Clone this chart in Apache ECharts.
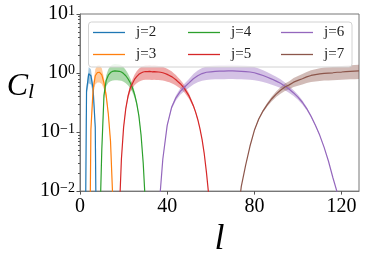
<!DOCTYPE html>
<html><head><meta charset="utf-8">
<script src="https://cdn.jsdelivr.net/npm/echarts@6/dist/echarts.min.js"></script>
<style>html,body{margin:0;padding:0;background:#fff}#c{width:366px;height:263px}</style>
</head><body><div id="c"></div>
<script>
const names = ['j=2','j=3','j=4','j=5','j=6','j=7'];
const colors = ['#1f77b4','#ff7f0e','#2ca02c','#d62728','#9467bd','#8c564b'];

const l2 = [2,3,4,5,6,7,8];
const c2 = [1e-5,0.50,0.97,0.90,0.55,0.12,1e-5];
const e2 = [0,0.08,0.30,0.26,0.097,0.005,0];

const l3 = [4,5,6,7,8,9,10,11,12,13,14,15,16];
const c3 = [1e-5,0.11,0.52,0.90,1.02,1.03,0.93,0.68,0.42,0.20,0.07,0.008,1e-5];
const e3 = [0,0.004,0.087,0.26,0.33,0.34,0.28,0.15,0.056,0.013,0.0016,0,0];

const l4 = [8,9,10,11,12,13,14,15,16,17,18,19,20,21,22,23,24,25,26,27,28,29,30,31,32];
const c4 = [1e-5,0.002,0.05,0.42,0.75,0.92,1.02,1.07,1.09,1.08,1.07,1.04,0.98,0.90,0.80,0.69,0.57,0.44,0.31,0.19,0.09,0.03,0.006,0.0005,1e-5];
const e4 = [0,0,0.0007,0.049,0.158,0.237,0.291,0.32,0.333,0.327,0.32,0.303,0.269,0.227,0.179,0.133,0.091,0.054,0.027,0.010,0.0023,0.0003,0,0,0];

const l5 = [16,17,18,19,20,21,22,23,24,25,26,27,28,29,30,31,32,33,34,35,36,37,38,39,40,41,42,43,44,45,46,47,48,49,50,51,52,53,54,55,56,57,58,59,60,61,62,63,64];
const c5 = [1e-5,0.0005,0.004,0.035,0.12,0.25,0.40,0.55,0.66,0.78,0.87,0.95,1.00,1.04,1.06,1.06,1.07,1.05,1.06,1.05,1.04,1.03,1.01,0.98,0.95,0.91,0.87,0.82,0.77,0.71,0.66,0.60,0.54,0.47,0.41,0.34,0.28,0.22,0.165,0.115,0.075,0.043,0.021,0.009,0.003,0.0008,0.0001,1e-5,1e-6];
const e5 = [0,0,0,0.0003,0.0037,0.016,0.042,0.079,0.113,0.158,0.197,0.235,0.26,0.281,0.292,0.292,0.298,0.287,0.292,0.287,0.281,0.276,0.265,0.25,0.235,0.215,0.197,0.175,0.154,0.131,0.113,0.094,0.076,0.057,0.044,0.030,0.020,0.0126,0.0071,0.0034,0.0015,0.0005,0.0001,0,0,0,0,0,0];

const l6 = [34,36,38,40,42,44,46,48,50,52,54,56,58,60,62,64,66,68,70,72,74,76,78,80,82,84,86,88,90,92,94,96,98,100,102,104,106,108,110,112,114,116,118,120,122,124];
const c6 = [1e-5,0.004,0.035,0.13,0.26,0.38,0.49,0.58,0.68,0.80,0.90,0.98,1.03,1.05,1.07,1.08,1.08,1.09,1.09,1.08,1.07,1.06,1.04,1.01,0.96,0.91,0.85,0.79,0.73,0.67,0.60,0.53,0.46,0.39,0.32,0.25,0.185,0.13,0.088,0.055,0.032,0.017,0.0095,0.003,0.0003,1e-5];
const e6 = [0,0,0.0003,0.0042,0.017,0.036,0.06,0.084,0.116,0.16,0.2025,0.24,0.265,0.276,0.286,0.292,0.292,0.297,0.297,0.292,0.286,0.281,0.27,0.255,0.23,0.207,0.18,0.156,0.133,0.112,0.09,0.07,0.053,0.038,0.026,0.016,0.0086,0.0042,0.0019,0.0008,0.0003,0,0,0,0,0];

const l7 = [70,72,74,76,78,80,82,84,86,88,90,92,94,96,98,100,102,104,106,108,110,112,114,116,118,120,122,124,126,128];
const c7 = [1e-5,0.003,0.012,0.0275,0.058,0.107,0.166,0.229,0.295,0.367,0.44,0.51,0.58,0.63,0.70,0.75,0.80,0.86,0.91,0.94,0.97,0.99,1.00,1.01,1.03,1.04,1.06,1.07,1.08,1.09];
const e7 = [0,0,0,0.0002,0.0008,0.0029,0.0069,0.013,0.022,0.034,0.048,0.065,0.084,0.099,0.1225,0.14,0.16,0.185,0.207,0.221,0.235,0.245,0.25,0.255,0.265,0.27,0.281,0.286,0.292,0.297];

const xTicks = [0,40,80,120];
const yTicks = [0.01,0.1,1,10];
const yTickExp = ['\u22122','\u22121','0','1'];
const yMinorTicks = [0.02,0.03,0.04,0.05,0.06,0.07,0.08,0.09,0.2,0.3,0.4,0.5,0.6,0.7,0.8,0.9,2,3,4,5,6,7,8,9];

const LS = [l2,l3,l4,l5,l6,l7];
const CS = [c2,c3,c4,c5,c6,c7];
const ES = [e2,e3,e4,e5,e6,e7];
const SERIF = 'Liberation Serif';

const series = [];
LS.forEach((ls, i) => {
  const lo = ls.map((x, k) => Math.max(CS[i][k] - ES[i][k], 1e-7));
  const hi = ls.map((x, k) => CS[i][k] + ES[i][k]);
  series.push({
    type: 'custom', name: names[i] + ' band', silent: true, z: 1,
    data: ls.map((x, k) => [x, lo[k], hi[k]]),
    encode: {x: 0, y: [1, 2]},
    renderItem: (params, api) => {
      if (params.dataIndex !== 0) return null;
      const top = ls.map((x, k) => api.coord([x, hi[k]]));
      const bot = ls.map((x, k) => api.coord([x, lo[k]])).reverse();
      const pts = echarts.graphic.clipPointsByRect(top.concat(bot), params.coordSys);
      return {type: 'polygon', shape: {points: pts}, style: {fill: colors[i], opacity: 0.4}};
    }
  });
});
LS.forEach((ls, i) => {
  series.push({
    type: 'line', name: names[i], symbol: 'none', color: colors[i],
    data: ls.map((x, k) => [x, CS[i][k]]),
    lineStyle: {width: 1.2, color: colors[i]}, z: 3
  });
});

const legendLeft = [93, 188, 281];
const legends = [0, 1, 2].map(col => ({
  data: [names[2 * col], names[2 * col + 1]],
  orient: 'vertical', left: legendLeft[col], top: 25, padding: 0,
  itemWidth: 32, itemHeight: 14, itemGap: 7, selectedMode: false,
  icon: 'path://M0,0L32,0L32,1.3L0,1.3Z',
  textStyle: {fontFamily: SERIF, fontSize: 15, color: '#222', padding: [0, 0, 0, 6]}
}));

const chart = echarts.init(document.getElementById('c'), null, {renderer: 'canvas'});
chart.setOption({
  animation: false,
  backgroundColor: '#fff',
  grid: {left: 80, right: 7, top: 14, bottom: 68, show: true, borderColor: '#777', borderWidth: 1, containLabel: false},
  legend: legends,
  graphic: [{
    type: 'rect', z: 3, silent: true,
    shape: {x: 88.5, y: 22, width: 263.5, height: 45, r: 3},
    style: {fill: 'rgba(255,255,255,0.8)', stroke: '#d2d2d2', lineWidth: 1}
  }],
  xAxis: {
    type: 'value', min: 0, max: 128,
    axisLine: {lineStyle: {color: '#777'}},
    axisTick: {customValues: xTicks, length: 3.5, lineStyle: {color: '#555'}},
    axisLabel: {customValues: xTicks, margin: 6, fontSize: 20, fontFamily: SERIF, color: '#000'},
    splitLine: {show: false},
    name: 'l', nameLocation: 'middle', nameGap: 28,
    nameTextStyle: {fontFamily: SERIF, fontStyle: 'italic', fontSize: 36, color: '#000'}
  },
  yAxis: [{
    type: 'log', logBase: 10, min: 0.01, max: 10, position: 'left',
    axisLine: {show: true, lineStyle: {color: '#777'}},
    axisTick: {show: true, customValues: yTicks, length: 3.5, lineStyle: {color: '#555'}},
    axisLabel: {
      customValues: yTicks, margin: 5,
      formatter: v => {
        const idx = yTicks.findIndex(t => Math.abs(Math.log10(t) - Math.log10(v)) < 1e-6);
        return '{b|10}{s|' + yTickExp[idx] + '}';
      },
      rich: {
        b: {fontFamily: SERIF, fontSize: 20, lineHeight: 20, color: '#000'},
        s: {fontFamily: SERIF, fontSize: 14, lineHeight: 12, verticalAlign: 'top', color: '#000'}
      }
    },
    splitLine: {show: false},
    name: '{c|C}{s|l}', nameLocation: 'middle', nameRotate: 0, nameGap: 41,
    nameTextStyle: {
      padding: [0, 0, 31, 0],
      rich: {
        c: {fontFamily: SERIF, fontStyle: 'italic', fontSize: 32, lineHeight: 32, color: '#000'},
        s: {fontFamily: SERIF, fontStyle: 'italic', fontSize: 22, lineHeight: 18, verticalAlign: 'bottom', color: '#000'}
      }
    }
  }, {
    type: 'log', logBase: 10, min: 0.01, max: 10, position: 'left',
    axisLine: {show: false},
    axisTick: {show: true, customValues: yMinorTicks, length: 2, lineStyle: {color: '#555'}},
    axisLabel: {show: false},
    splitLine: {show: false}
  }],
  series: series
});
</script></body></html>
